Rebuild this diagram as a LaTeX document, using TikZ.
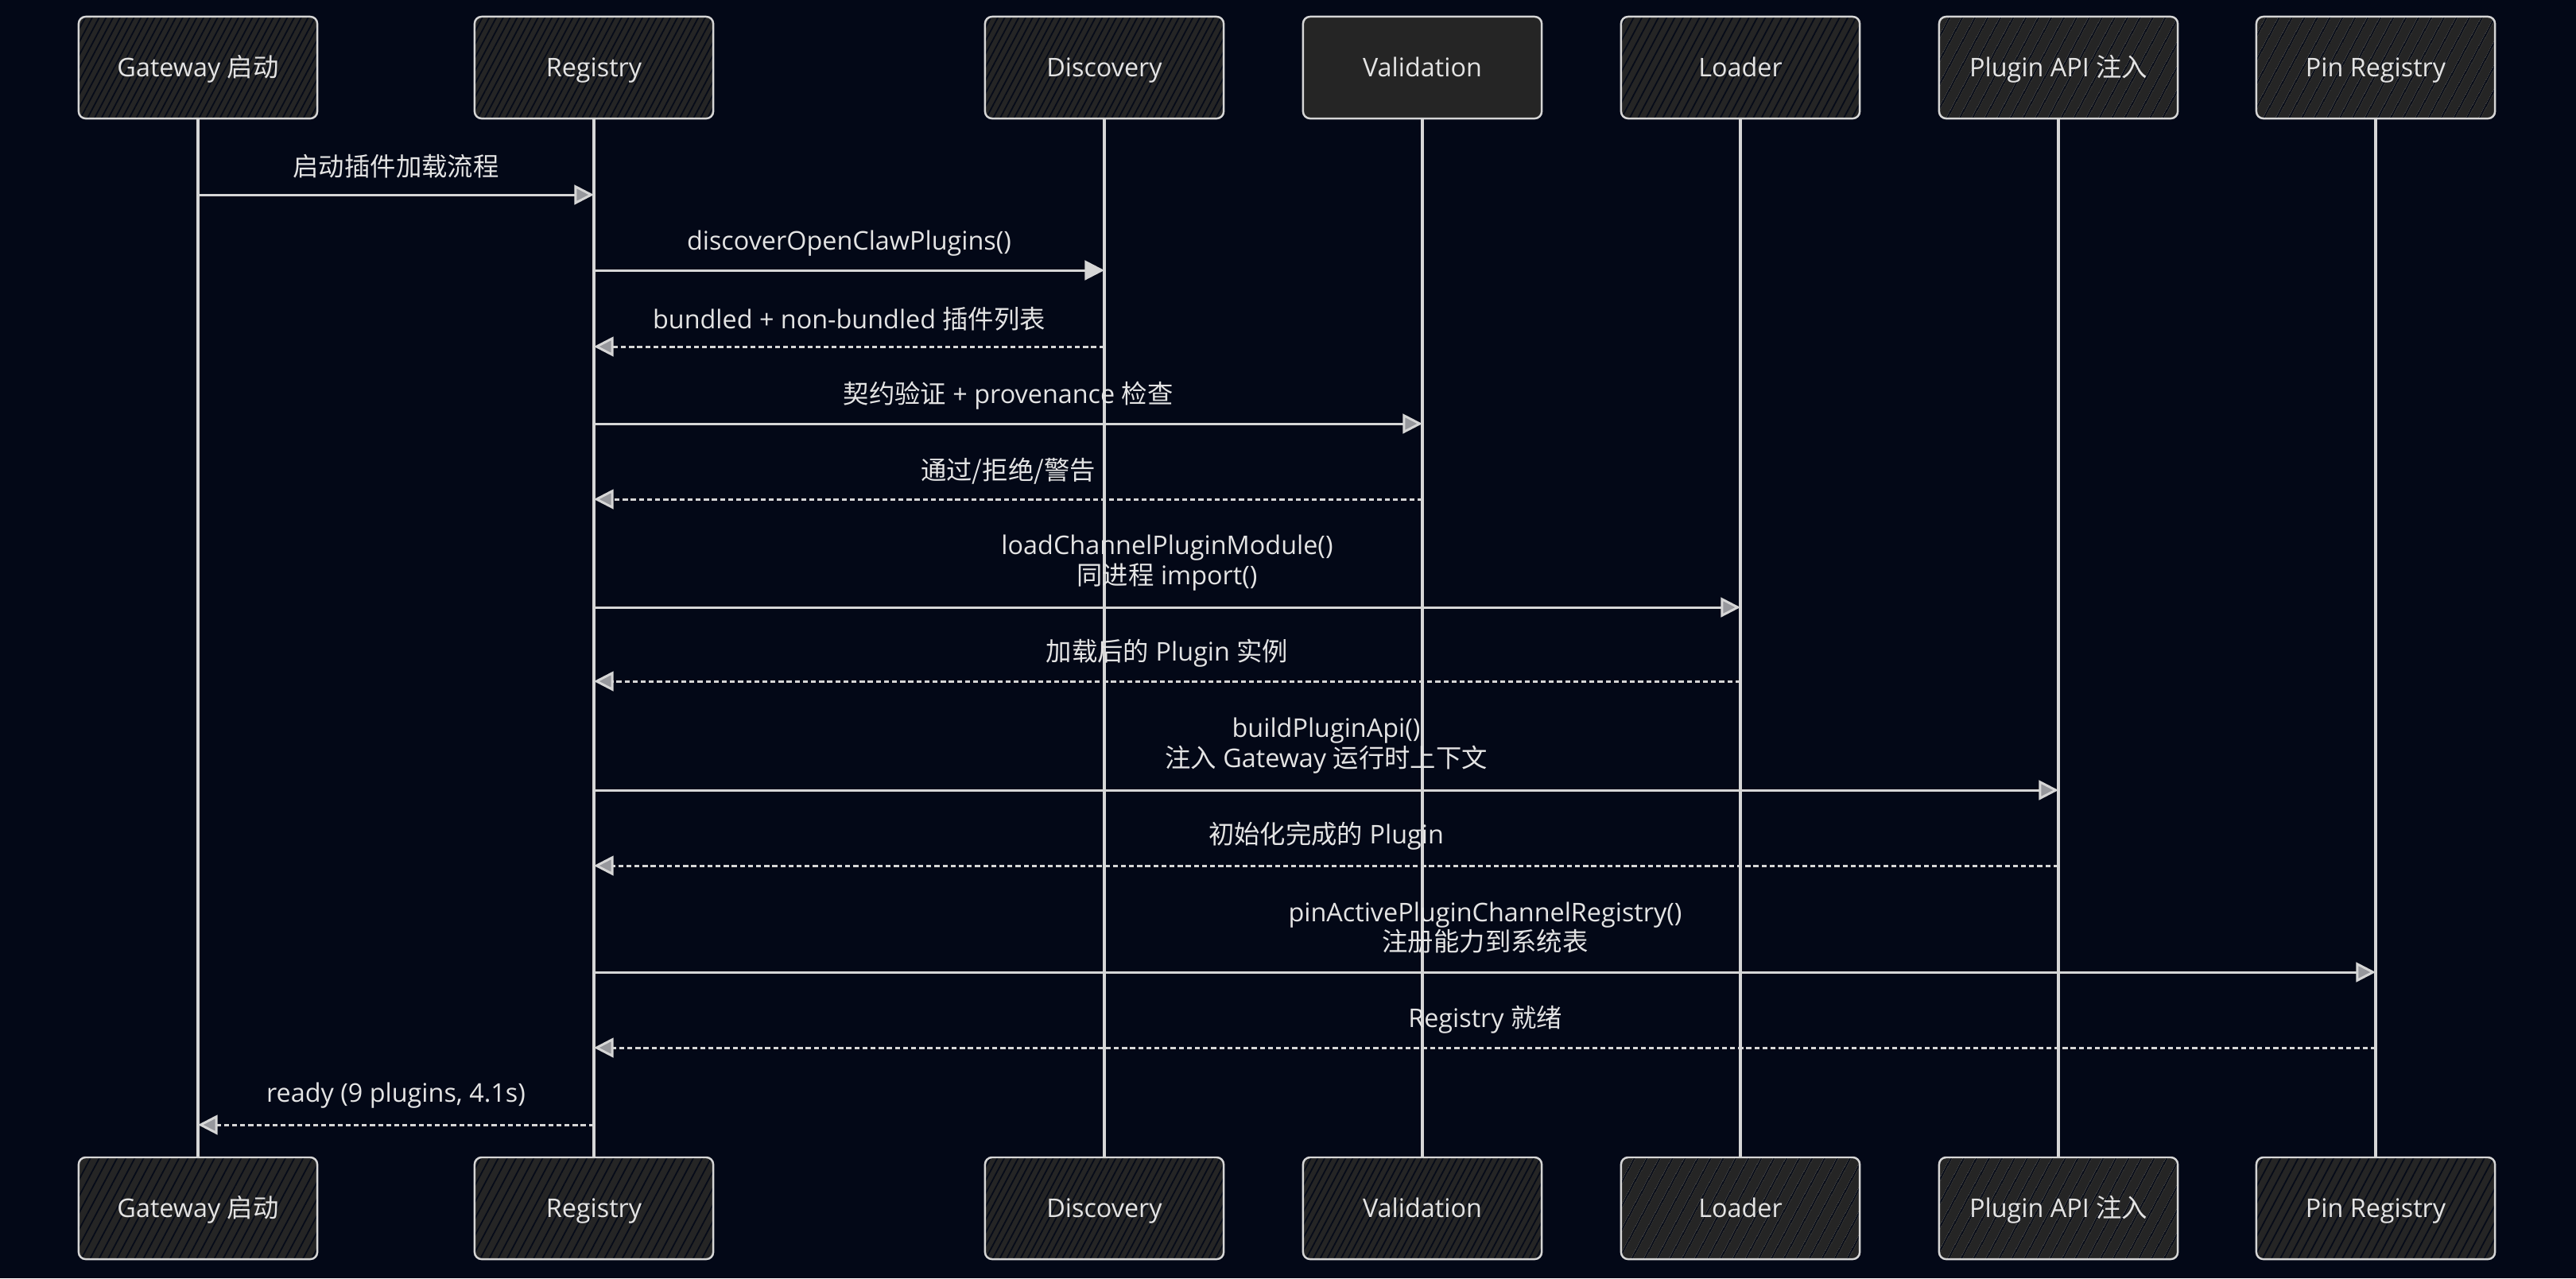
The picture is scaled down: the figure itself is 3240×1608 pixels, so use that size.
\documentclass[tikz,border=0pt]{standalone}
\usepackage{fontspec}
\setmainfont{Open Sans}
\newfontfamily\cjkfont{Noto Sans CJK SC}
\newcommand\zh[1]{{\cjkfont #1}}
\usetikzlibrary{arrows.meta,patterns.meta}
\definecolor{bg}{HTML}{030817}
\definecolor{boxfill}{HTML}{252525}
\definecolor{ink}{HTML}{D6D6D6}
\definecolor{txt}{HTML}{E4E4E4}
\tikzset{
  actor/.style={draw=ink, line width=0.7pt, rounded corners=2.5pt,
    minimum width=3cm, minimum height=1.28cm, inner sep=0pt, text=txt,
    text height=8pt, text depth=1.4pt,
    font=\fontsize{9.2}{11}\selectfont, preaction={fill=boxfill}},
  hatch/.style={preaction={pattern={Lines[angle=62,distance=#1,line width=0.5pt]},
    pattern color=bg!90!boxfill}},
  life/.style={draw=ink, line width=0.9pt},
  msg/.style={draw=ink, line width=0.85pt, -{Triangle[length=7pt,width=7pt,fill=ink!70!bg]}},
  msgsolid/.style={draw=ink, line width=0.85pt, -{Triangle[length=7pt,width=7pt,fill=ink]}},
  ret/.style={msg, dash pattern=on 1.8pt off 1.1pt},
  lbl/.style={text=txt, font=\fontsize{9.2}{10.6}\selectfont, align=center, inner sep=0pt}
}
\begin{document}
\begin{tikzpicture}[x=0.01cm,y=-0.01cm]
\fill[bg] (0,0) rectangle (3240,1608);
\useasboundingbox (0,0) rectangle (3240,1608);
% top actors
\node[actor, hatch=2.2pt] (gT) at (249,85) {Gateway \zh{启动}};
\node[actor, hatch=2.2pt] (rT) at (747,85) {Registry};
\node[actor, hatch=2.2pt] (dT) at (1389,85) {Discovery};
\node[actor] (vT) at (1789,85) {Validation};
\node[actor, hatch=2.6pt] (lT) at (2189,85) {Loader};
\node[actor, hatch=4pt] (pT) at (2589,85) {Plugin API \zh{注入}};
\node[actor, hatch=4pt] (nT) at (2988,85) {Pin Registry};
% bottom actors
\node[actor, hatch=2.8pt] (gB) at (249,1520) {Gateway \zh{启动}};
\node[actor, hatch=2.8pt] (rB) at (747,1520) {Registry};
\node[actor, hatch=2.2pt] (dB) at (1389,1520) {Discovery};
\node[actor, hatch=2.2pt] (vB) at (1789,1520) {Validation};
\node[actor, hatch=4pt] (lB) at (2189,1520) {Loader};
\node[actor, hatch=4pt] (pB) at (2589,1520) {Plugin API \zh{注入}};
\node[actor, hatch=2.8pt] (nB) at (2988,1520) {Pin Registry};
% lifelines
\draw[life] (gT) -- (gB);
\draw[life] (rT) -- (rB);
\draw[life] (dT) -- (dB);
\draw[life] (vT) -- (vB);
\draw[life] (lT) -- (lB);
\draw[life] (pT) -- (pB);
\draw[life] (nT) -- (nB);
% message end points
\coordinate (m1a) at (gT |- 0,245);  \coordinate (m1b) at (rT |- 0,245);
\coordinate (m2a) at (rT |- 0,340);  \coordinate (m2b) at (dT |- 0,340);
\coordinate (m3a) at (dT |- 0,436);  \coordinate (m3b) at (rT |- 0,436);
\coordinate (m4a) at (rT |- 0,533);  \coordinate (m4b) at (vT |- 0,533);
\coordinate (m5a) at (vT |- 0,628);  \coordinate (m5b) at (rT |- 0,628);
\coordinate (m6a) at (rT |- 0,764);  \coordinate (m6b) at (lT |- 0,764);
\coordinate (m7a) at (lT |- 0,857);  \coordinate (m7b) at (rT |- 0,857);
\coordinate (m8a) at (rT |- 0,994);  \coordinate (m8b) at (pT |- 0,994);
\coordinate (m9a) at (pT |- 0,1089); \coordinate (m9b) at (rT |- 0,1089);
\coordinate (m10a) at (rT |- 0,1223); \coordinate (m10b) at (nT |- 0,1223);
\coordinate (m11a) at (nT |- 0,1318); \coordinate (m11b) at (rT |- 0,1318);
\coordinate (m12a) at (rT |- 0,1415); \coordinate (m12b) at (gT |- 0,1415);
% messages
\draw[msg] (m1a) -- (m1b);
\draw[msgsolid] (m2a) -- (m2b);
\draw[ret] (m3a) -- (m3b);
\draw[msg] (m4a) -- (m4b);
\draw[ret] (m5a) -- (m5b);
\draw[msg] (m6a) -- (m6b);
\draw[ret] (m7a) -- (m7b);
\draw[msg] (m8a) -- (m8b);
\draw[ret] (m9a) -- (m9b);
\draw[msg] (m10a) -- (m10b);
\draw[ret] (m11a) -- (m11b);
\draw[ret] (m12a) -- (m12b);
% labels
\node[lbl] (t1) at (498,209) {\zh{启动插件加载流程}};
\node[lbl] (t2) at (1068,306) {discoverOpenClawPlugins()};
\node[lbl] (t3) at (1068,401) {bundled + non-bundled \zh{插件列表}};
\node[lbl] (t4) at (1268,498) {\zh{契约验证} + provenance \zh{检查}};
\node[lbl] (t5) at (1268,593) {\zh{通过/拒绝/警告}};
\node[lbl] (t6) at (1468,708) {loadChannelPluginModule()\\\zh{同进程} import()};
\node[lbl] (t7) at (1468,822) {\zh{加载后的} Plugin \zh{实例}};
\node[lbl] (t8) at (1668,938) {buildPluginApi()\\\zh{注入} Gateway \zh{运行时上下文}};
\node[lbl] (t9) at (1668,1052) {\zh{初始化完成的} Plugin};
\node[lbl] (t10) at (1868,1167) {pinActivePluginChannelRegistry()\\\zh{注册能力到系统表}};
\node[lbl] (t11) at (1868,1283) {Registry \zh{就绪}};
\node[lbl] (t12) at (498,1378) {ready (9 plugins, 4.1s)};
\end{tikzpicture}
\end{document}
